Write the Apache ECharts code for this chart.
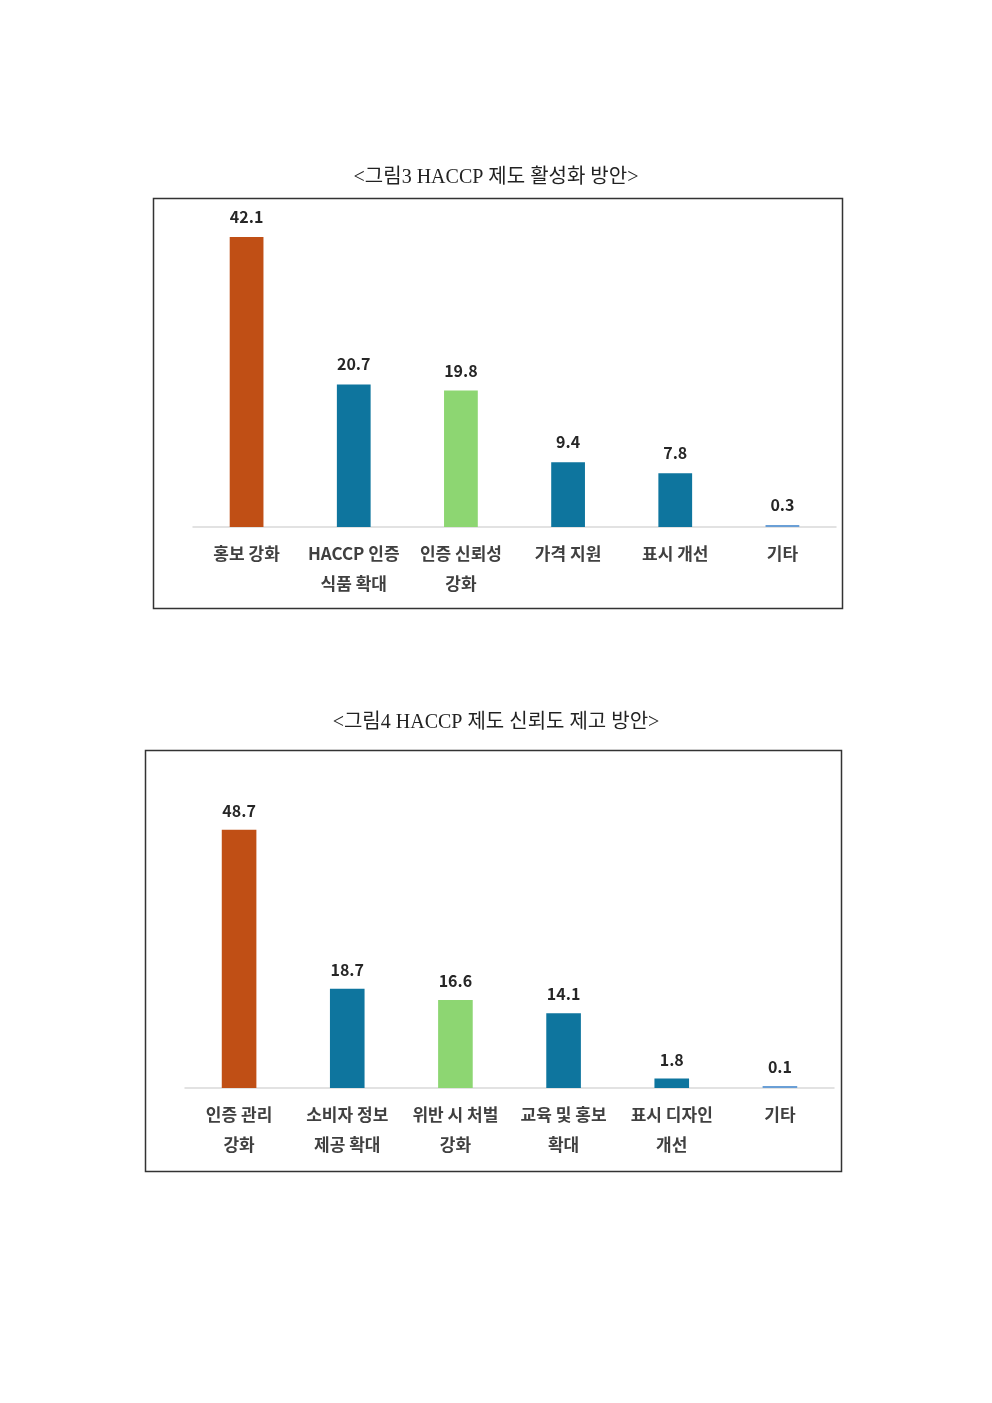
<!DOCTYPE html>
<html><head><meta charset="utf-8">
<script src="https://cdn.jsdelivr.net/npm/echarts@6/dist/echarts.min.js"></script>
<style>html,body{margin:0;padding:0;background:#fff}#c{width:992px;height:1403px}</style>
</head><body><div id="c"></div>
<script>
const title1 = '<그림3 HACCP 제도 활성화 방안>';
const categories1 = ['홍보 강화', 'HACCP 인증\n식품 확대', '인증 신뢰성\n강화', '가격 지원', '표시 개선', '기타'];
const values1 = [42.1, 20.7, 19.8, 9.4, 7.8, 0.3];

const title2 = '<그림4 HACCP 제도 신뢰도 제고 방안>';
const categories2 = ['인증 관리\n강화', '소비자 정보\n제공 확대', '위반 시 처벌\n강화', '교육 및 홍보\n확대', '표시 디자인\n개선', '기타'];
const values2 = [48.7, 18.7, 16.6, 14.1, 1.8, 0.1];

const barColors = ['#C04F15', '#0E759E', '#8DD672', '#0E759E', '#0E759E', '#6A9FD6'];
const KR = '"Noto Sans CJK KR", "Noto Sans", sans-serif';
const SERIF = '"Liberation Serif", "Noto Sans CJK KR", serif';

function colored(vals) {
  return vals.map((v, i) => ({ value: v, itemStyle: { color: barColors[i] } }));
}

const chart = echarts.init(document.getElementById('c'), null, { renderer: 'canvas' });
chart.setOption({
  animation: false,
  backgroundColor: '#fff',
  title: [
    { text: title1, left: 'center', top: 163, textStyle: { fontFamily: SERIF, fontSize: 20, fontWeight: 'normal', color: '#222' } },
    { text: title2, left: 'center', top: 708, textStyle: { fontFamily: SERIF, fontSize: 20, fontWeight: 'normal', color: '#222' } }
  ],
  graphic: [
    { type: 'rect', shape: { x: 153.5, y: 198.5, width: 689, height: 410 }, style: { fill: 'none', stroke: '#333', lineWidth: 1.5 }, z: 10 },
    { type: 'rect', shape: { x: 145.5, y: 750.5, width: 696, height: 421 }, style: { fill: 'none', stroke: '#333', lineWidth: 1.5 }, z: 10 }
  ],
  grid: [
    { left: 193, right: 156, top: 217, height: 310 },
    { left: 185, right: 158, top: 822.8, height: 265.2 }
  ],
  xAxis: [0, 1].map(i => ({
    type: 'category', gridIndex: i, data: i === 0 ? categories1 : categories2,
    axisLine: { lineStyle: { color: '#D9D9D9', width: 1.5 } },
    axisTick: { show: false },
    axisLabel: { interval: 0, margin: 12, fontFamily: KR, fontSize: 17, fontWeight: 'bold', color: '#404040', lineHeight: 30 }
  })),
  yAxis: [0, 1].map(i => ({
    type: 'value', gridIndex: i, min: 0, max: i === 0 ? 45 : 50,
    show: false, splitLine: { show: false }
  })),
  series: [
    { type: 'bar', xAxisIndex: 0, yAxisIndex: 0, data: colored(values1), barWidth: '31.5%', barMinHeight: 2,
      label: { show: true, position: 'top', distance: 12, fontFamily: KR, fontSize: 16, fontWeight: 'bold', color: '#262626' } },
    { type: 'bar', xAxisIndex: 1, yAxisIndex: 1, data: colored(values2), barWidth: '32%', barMinHeight: 2,
      label: { show: true, position: 'top', distance: 11, fontFamily: KR, fontSize: 16, fontWeight: 'bold', color: '#262626' } }
  ]
});
</script></body></html>
